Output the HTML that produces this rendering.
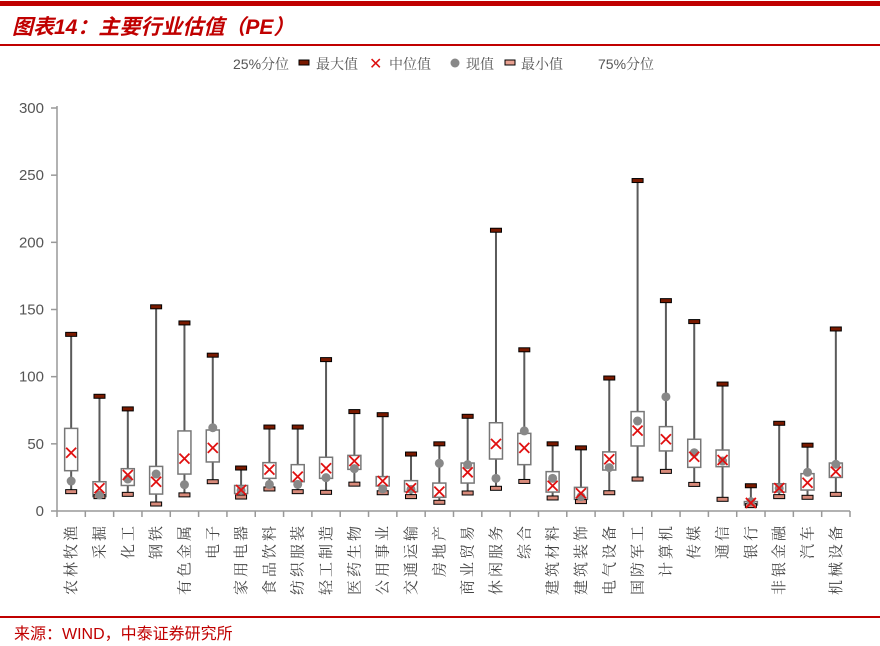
<!DOCTYPE html>
<html><head><meta charset="utf-8"><style>
body{margin:0;background:#fff;}
svg{display:block;}
</style></head><body>
<svg id="c" width="880" height="646" xmlns="http://www.w3.org/2000/svg">
<rect x="0" y="0" width="880" height="646" fill="#fff"/>
<rect x="0" y="1" width="880" height="5" fill="#c00000"/>
<text x="12" y="34" font-family="Liberation Sans, Noto Sans CJK SC, sans-serif" font-size="21" font-weight="bold" font-style="italic" fill="#c00000">图表14：主要行业估值（PE）</text>
<rect x="0" y="44" width="880" height="2" fill="#c00000"/>
<g id="legend" font-family="Liberation Sans, Noto Serif CJK SC, serif" font-size="14" fill="#555">
<text x="233" y="69">25%分位</text>
<rect x="299" y="60" width="10" height="5" fill="#7a1a00" stroke="#000" stroke-width="1"/>
<text x="316" y="69">最大值</text>
<text x="369" y="69" fill="#d11" font-size="16">✕</text>
<text x="389" y="69">中位值</text>
<circle cx="455" cy="63" r="4.5" fill="#888"/>
<text x="466" y="69">现值</text>
<rect x="505" y="60" width="10" height="5" fill="#e8a090" stroke="#000" stroke-width="1"/>
<text x="521" y="69">最小值</text>
<text x="598" y="69">75%分位</text>
</g>
<g id="plot"></g>
<rect x="0" y="616" width="880" height="2" fill="#c00000"/>
<text x="14" y="639" font-family="Liberation Sans, Noto Sans CJK SC, sans-serif" font-size="16" fill="#c00000">来源：WIND，中泰证券研究所</text>
</svg>
<script>
const categories=["农林牧渔","采掘","化工","钢铁","有色金属","电子","家用电器","食品饮料","纺织服装","轻工制造","医药生物","公用事业","交通运输","房地产","商业贸易","休闲服务","综合","建筑材料","建筑装饰","电气设备","国防军工","计算机","传媒","通信","银行","非银金融","汽车","机械设备"];
const maxVals=[131.5,85.4,76,152,140,116,32,62.5,62.5,112.7,74,71.7,42.4,50,70.5,209,120,50,47,99,246,156.6,141,94.5,18.8,65.3,49,135.5];
const q75Vals=[61.5,21.8,31.5,33.2,59.6,60.3,19,36,34.5,40,41.4,25.6,22.6,20.8,35.7,65.7,57.8,29.3,17.6,44,74,62.8,53.4,45.4,7,20.3,27.8,35.7];
const medianVals=[43.4,16.9,26.8,21.8,39,47,15.6,30.8,25.6,31.8,37.2,22.3,16.9,14.4,28.8,50,47,18.8,13.2,38.5,59.8,53.4,40.4,38,6,17,21,29.3];
const currentVals=[22.3,12,23.8,27.5,19.6,62,15.3,19.8,19.8,24.8,31.5,16.4,16.1,35.5,34.5,24.3,59.6,24.3,10.7,32.3,67,85,43.4,37.2,7,16.9,28.8,34.8];
const q25Vals=[30,10.7,19,12.6,27.5,36.5,13,24.3,21.8,24.3,31,18.6,14.4,10.2,20.8,38.7,34.5,14.1,8.7,30.5,48.4,44.7,32.5,33,4.5,14.1,15.6,25];
const minVals=[14.4,10.7,12.4,5.2,12,21.8,10.4,16.4,14.4,13.9,20,13.6,10.7,6.5,13.4,16.9,22,9.7,7,13.6,23.8,29.5,19.8,8.7,4,10.7,10.2,12.4];
const yTicks=[0,50,100,150,200,250,300];

const NS="http://www.w3.org/2000/svg";
const g=document.getElementById('plot');
const X0=57,X1=850,Y0=511,Y1=108,YMAX=300;
const band=(X1-X0)/categories.length;
function y(v){return Y0-(v/YMAX)*(Y0-Y1);}
function x(i){return X0+band*(i+0.5);}
function mk(tag,attrs,parent){const e=document.createElementNS(NS,tag);for(const k in attrs)e.setAttribute(k,attrs[k]);(parent||g).appendChild(e);return e;}

// y axis
let ax=mk('line',{x1:X0,y1:Y1-2,x2:X0,y2:Y0,stroke:'#999','stroke-width':1.5});


yTicks.forEach(t=>{
  let tk=mk('line',{x1:X0-6,y1:y(t),x2:X0,y2:y(t),stroke:'#999','stroke-width':1.5});
  
  
  let tl=mk('text',{x:X0-13,y:y(t)+5,'text-anchor':'end','font-family':'Liberation Sans, sans-serif','font-size':15,fill:'#555'});
  tl.textContent=t;
  
  
});
// x axis
let xa=mk('line',{x1:X0,y1:Y0,x2:X1,y2:Y0,stroke:'#999','stroke-width':1.5});


for(let i=0;i<=categories.length;i++){
  let tk=mk('line',{x1:X0+band*i,y1:Y0,x2:X0+band*i,y2:Y0+6,stroke:'#999','stroke-width':1.5});
  
  
}
categories.forEach((c,i)=>{
  const cx=x(i);
  const grp=mk('g',{});
  
  
  let wl=mk('line',{x1:cx,y1:y(maxVals[i]),x2:cx,y2:y(minVals[i]),stroke:'#5a5a5a','stroke-width':2},grp);
  
  
  let bx=mk('rect',{x:cx-6.5,y:y(q75Vals[i]),width:13,height:Math.max(1,y(q25Vals[i])-y(q75Vals[i])),fill:'#fff',stroke:'#777','stroke-width':1.5},grp);
  
  
  let mx=mk('rect',{x:cx-5.5,y:y(maxVals[i])-2,width:11,height:4,fill:'#7a1a00',stroke:'#000','stroke-width':1},grp);
  
  
  let mn=mk('rect',{x:cx-5.5,y:y(minVals[i])-2,width:11,height:4,fill:'#d88a7a',stroke:'#000','stroke-width':1},grp);
  
  
  let cu=mk('circle',{cx:cx,cy:y(currentVals[i]),r:4.5,fill:'#888'},grp);
  
  
  const my=y(medianVals[i]);
  let md=mk('path',{d:`M${cx-5} ${my-5}L${cx+5} ${my+5}M${cx+5} ${my-5}L${cx-5} ${my+5}`,stroke:'#e01010','stroke-width':1.8,fill:'none'},grp);
  
  
  let lb=mk('text',{x:0,y:0,transform:`translate(${cx+5},${Y0+12}) rotate(-90)`,'text-anchor':'end','font-family':'Liberation Serif, Noto Serif CJK SC, serif','font-size':15,'letter-spacing':3,fill:'#444'});
  lb.textContent=c;
  
  
});
</script>
</body></html>
